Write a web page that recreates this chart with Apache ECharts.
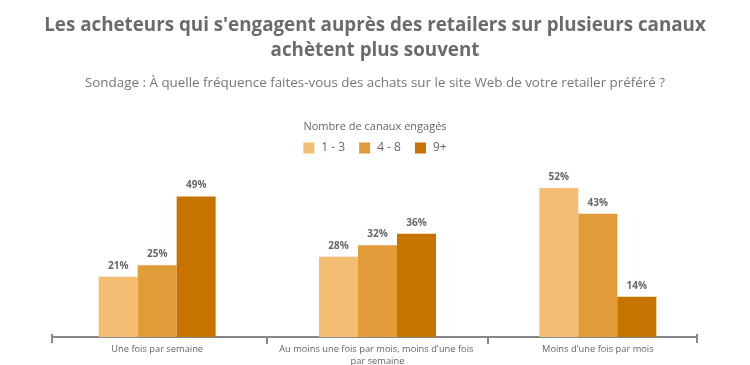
<!DOCTYPE html>
<html><head><meta charset="utf-8">
<script src="https://cdn.jsdelivr.net/npm/echarts@6/dist/echarts.min.js"></script>
<style>html,body{margin:0;padding:0;background:#fff}#c{width:750px;height:365px}</style>
</head><body><div id="c"></div>
<script>
const categories = ["Une fois par semaine", "Au moins une fois par mois, moins d'une fois par semaine", "Moins d'une fois par mois"];
const seriesNames = ["1 - 3", "4 - 8", "9+"];
const s1 = [21, 28, 52];
const s2 = [25, 32, 43];
const s3 = [49, 36, 14];
const colors = ["#F3BD73", "#E29B39", "#C67300"];
const gray = "#6b6b6b";

const chart = echarts.init(document.getElementById('c'), null, {renderer: 'canvas'});
const lbl = {show: true, position: 'top', distance: 6, formatter: '{c}%', color: '#666', fontSize: 10, fontWeight: 'bold', fontFamily: 'Open Sans'};
const tickStyle = {color: '#888', width: 2};
chart.setOption({
  animation: false,
  title: [
    {text: "Les acheteurs qui s'engagent auprès des retailers sur plusieurs canaux\nachètent plus souvent", left: 'center', top: 8,
     textStyle: {color: gray, fontSize: 18.8, fontWeight: 'bold', fontFamily: 'Open Sans', lineHeight: 25}},
    {text: "Sondage : À quelle fréquence faites-vous des achats sur le site Web de votre retailer préféré ?", left: 'center', top: 72,
     textStyle: {color: '#777', fontSize: 13.4, fontWeight: 'normal', fontFamily: 'Open Sans'}},
    {text: "Nombre de canaux engagés", left: 'center', top: 116,
     textStyle: {color: '#666', fontSize: 11, fontWeight: 'normal', fontFamily: 'Open Sans'}}
  ],
  legend: {data: seriesNames, top: 137, left: 'center', itemWidth: 11, itemHeight: 11, itemGap: 14, icon: 'rect',
    textStyle: {color: '#666', fontSize: 12, fontFamily: 'Open Sans', padding: [0, 0, 0, 2]}},
  grid: [
    {left: 47, right: 42, top: 165, bottom: 28, outerBoundsMode: 'none', containLabel: false},
    {left: 52, right: 53, top: 165, bottom: 28, outerBoundsMode: 'none', containLabel: false},
    {left: 267, right: 262, top: 165, bottom: 28, outerBoundsMode: 'none', containLabel: false}
  ],
  xAxis: [
    {type: 'category', data: categories, gridIndex: 0,
     axisLine: {show: false}, axisTick: {show: false},
     axisLabel: {color: '#666', fontSize: 9.3, fontFamily: 'Open Sans', interval: 0, width: 205, overflow: 'break', margin: 7, lineHeight: 11.5}},
    {type: 'value', gridIndex: 1, min: 0, max: 1, interval: 1,
     axisLine: {show: true, lineStyle: tickStyle},
     axisTick: {show: true, length: 6, lineStyle: tickStyle},
     axisLabel: {show: false}, splitLine: {show: false}},
    {type: 'value', gridIndex: 1, min: 0, max: 1, interval: 1, position: 'bottom',
     axisLine: {show: false},
     axisTick: {show: true, inside: true, length: 3, lineStyle: tickStyle},
     axisLabel: {show: false}, splitLine: {show: false}},
    {type: 'value', gridIndex: 2, min: 0, max: 1, interval: 1, position: 'bottom',
     axisLine: {show: false},
     axisTick: {show: true, length: 7, lineStyle: tickStyle},
     axisLabel: {show: false}, splitLine: {show: false}}
  ],
  yAxis: [
    {type: 'value', gridIndex: 0, min: 0, max: 60, show: false, splitLine: {show: false}},
    {type: 'value', gridIndex: 1, min: 0, max: 60, show: false, splitLine: {show: false}},
    {type: 'value', gridIndex: 2, min: 0, max: 60, show: false, splitLine: {show: false}}
  ],
  color: colors,
  series: [
    {name: seriesNames[0], type: 'bar', data: s1, barWidth: 39, barGap: '0%', label: lbl, itemStyle: {color: colors[0]}},
    {name: seriesNames[1], type: 'bar', data: s2, barWidth: 39, barGap: '0%', label: lbl, itemStyle: {color: colors[1]}},
    {name: seriesNames[2], type: 'bar', data: s3, barWidth: 39, barGap: '0%', label: lbl, itemStyle: {color: colors[2]}}
  ]
});
</script></body></html>
